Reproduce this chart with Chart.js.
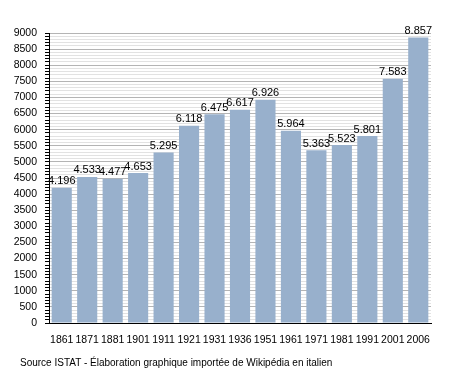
<!DOCTYPE html>
<html><head><meta charset="utf-8">
<script src="https://cdn.jsdelivr.net/npm/chart.js@4/dist/chart.umd.min.js"></script>
<style>
html,body{margin:0;padding:0;background:#fff;}
#wrap{position:relative;width:458px;height:373px;}
#src{position:absolute;left:20px;top:357px;font:10px "Liberation Sans",Arial,sans-serif;color:#000;white-space:nowrap;}
</style></head>
<body>
<div id="wrap"><canvas id="c" width="458" height="373"></canvas>
<div id="src">Source ISTAT - Élaboration graphique importée de Wikipédia en italien</div></div>
<script>
const years = ["1861","1871","1881","1901","1911","1921","1931","1936","1951","1961","1971","1981","1991","2001","2006"];
const population = [4196,4533,4477,4653,5295,6118,6475,6617,6926,5964,5363,5523,5801,7583,8857];
const valueLabels = ["4.196","4.533","4.477","4.653","5.295","6.118","6.475","6.617","6.926","5.964","5.363","5.523","5.801","7.583","8.857"];

const labelPlugin = {
  id: 'valLabels',
  afterDatasetsDraw(chart) {
    const ctx = chart.ctx;
    const meta = chart.getDatasetMeta(0);
    ctx.save();
    ctx.font = '11px "Liberation Sans", Arial, sans-serif';
    ctx.fillStyle = '#000';
    ctx.textAlign = 'center';
    ctx.textBaseline = 'bottom';
    meta.data.forEach((bar, i) => {
      ctx.fillText(valueLabels[i], bar.x, bar.y - 1);
    });
    ctx.restore();
  }
};

new Chart(document.getElementById('c'), {
  type: 'bar',
  data: {
    labels: years,
    datasets: [{
      data: population,
      backgroundColor: '#98b0cc',
      borderWidth: 0,
      barPercentage: 0.79,
      categoryPercentage: 1.0
    }]
  },
  options: {
    responsive: false,
    animation: false,
    devicePixelRatio: 1,
    layout: { padding: { top: 33, right: 27, left: 0, bottom: 0 } },
    plugins: { legend: { display: false }, tooltip: { enabled: false } },
    scales: {
      x: {
        grid: { display: false },
        border: { display: true, color: '#000', width: 1 },
        ticks: { color: '#000', font: { family: '"Liberation Sans", Arial, sans-serif', size: 10.5 }, padding: 3, maxRotation: 0, autoSkip: false },
        afterFit(s) { s.height = 50; }
      },
      y: {
        min: 0, max: 9000,
        grid: {
          color: ctx => (ctx.tick && ctx.tick.value % 500 === 0) ? '#b4b4b4' : '#e2e2e2',
          tickColor: '#000',
          tickLength: 4,
          drawOnChartArea: true
        },
        border: { display: true, color: '#000', width: 1 },
        ticks: {
          stepSize: 100, autoSkip: false,
          color: '#000',
          font: { family: '"Liberation Sans", Arial, sans-serif', size: 10.5 },
          padding: 8,
          callback: v => (v % 500 === 0) ? String(v) : ''
        },
        afterFit(s) { s.width = 49; }
      }
    }
  },
  plugins: [labelPlugin]
});
</script>
</body></html>
